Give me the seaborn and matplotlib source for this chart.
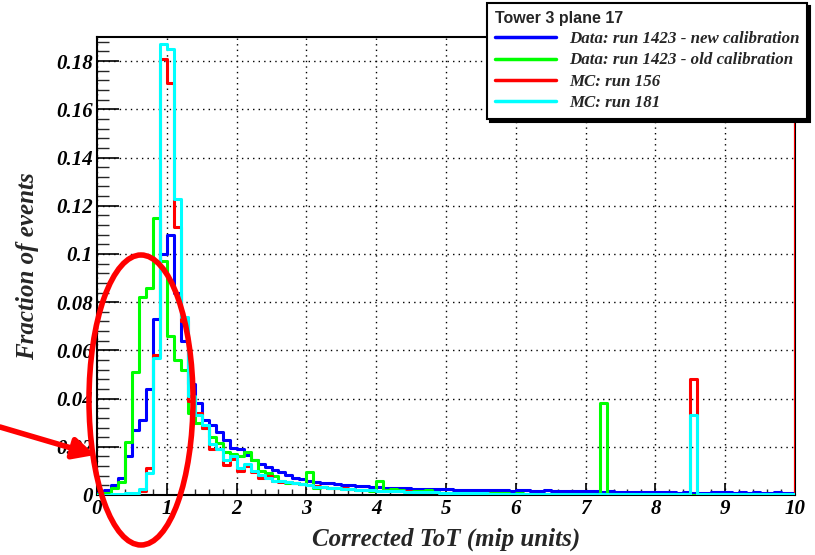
import numpy as np
import pandas as pd
import seaborn as sns
import matplotlib
matplotlib.use("Agg")
import matplotlib.pyplot as plt
from matplotlib.patches import Ellipse
from matplotlib.lines import Line2D
from matplotlib.font_manager import FontProperties

# ---------------- data (fraction of events per 0.1 mip bin, 0..10, + overflow) ----
bin_edges = [round(0.1 * k, 1) for k in range(102)]

blue_new = [
    0.001, 0.002, 0.004, 0.007, 0.016, 0.027, 0.031, 0.044, 0.073, 0.100,
    0.108, 0.084, 0.064, 0.046, 0.038, 0.031, 0.029, 0.026, 0.023, 0.0195,
    0.019, 0.0166, 0.0145, 0.013, 0.0117, 0.0104, 0.0097, 0.0083, 0.0072, 0.0066,
    0.006, 0.0055, 0.005, 0.0048, 0.0045, 0.0042, 0.004, 0.0038, 0.0036, 0.0034,
    0.0032, 0.0030, 0.0029, 0.0028, 0.0027, 0.0026, 0.0025, 0.0026, 0.0024, 0.0023,
    0.0023, 0.0022, 0.0021, 0.0021, 0.0020, 0.0020, 0.0019, 0.0019, 0.0019, 0.0018,
    0.0020, 0.0019, 0.0018, 0.0018, 0.0019, 0.0018, 0.0017, 0.0018, 0.0017, 0.0016,
    0.0015, 0.0016, 0.0014, 0.0015, 0.0014, 0.0013, 0.0012, 0.0013, 0.0012, 0.0011,
    0.0011, 0.0012, 0.0011, 0.0010, 0.0011, 0.0010, 0.0010, 0.0009, 0.0011, 0.0012,
    0.0011, 0.0010, 0.0011, 0.0009, 0.0012, 0.0010, 0.0009, 0.0013, 0.0010, 0.0009,
    0.0,
]

green_old = [
    0.0005, 0.001, 0.003, 0.0055, 0.022, 0.051, 0.082, 0.086, 0.115, 0.097,
    0.066, 0.056, 0.052, 0.034, 0.030, 0.028, 0.024, 0.0215, 0.018, 0.017,
    0.016, 0.018, 0.0145, 0.010, 0.009, 0.008, 0.006, 0.005, 0.005, 0.0045,
    0.0097, 0.003, 0.0035, 0.003, 0.0028, 0.0025, 0.0025, 0.0022, 0.002, 0.0018,
    0.006, 0.002, 0.0025, 0.0022, 0.0018, 0.0015, 0.0018, 0.002, 0.0012, 0.001,
    0.0008, 0.0009, 0.0007, 0.0008, 0.0006, 0.0008, 0.0009, 0.0010, 0.0008, 0.0006,
    0.0007, 0.0006, 0.0005, 0.0006, 0.0005, 0.0004, 0.0005, 0.0004, 0.0003, 0.0004,
    0.0003, 0.0004, 0.038, 0.0005, 0.0003, 0.0002, 0.0003, 0.0002, 0.0002, 0.0002,
    0.0002, 0.0002, 0.0001, 0.0002, 0.0002, 0.0001, 0.0002, 0.0001, 0.0001, 0.0002,
    0.0001, 0.0001, 0.0002, 0.0001, 0.0001, 0.0001, 0.0001, 0.0001, 0.0001, 0.0001,
    0.0,
]

red_mc156 = [
    0.0, 0.0, 0.0, 0.0, 0.0, 0.0005, 0.0015, 0.011, 0.058, 0.181,
    0.171, 0.111, 0.072, 0.039, 0.034, 0.028, 0.019, 0.019, 0.0125, 0.015,
    0.010, 0.012, 0.0095, 0.007, 0.008, 0.006, 0.0055, 0.0052, 0.005, 0.0045,
    0.0042, 0.0036, 0.0034, 0.003, 0.0028, 0.0027, 0.0024, 0.0022, 0.002, 0.0019,
    0.0018, 0.0017, 0.0016, 0.0015, 0.0016, 0.0013, 0.0012, 0.0011, 0.0011, 0.0010,
    0.0009, 0.0008, 0.0008, 0.0007, 0.0007, 0.0007, 0.0006, 0.0006, 0.0005, 0.0005,
    0.0005, 0.0005, 0.0004, 0.0004, 0.0004, 0.0004, 0.0004, 0.0003, 0.0003, 0.0003,
    0.0003, 0.0003, 0.0003, 0.0003, 0.0003, 0.0003, 0.0003, 0.0003, 0.0003, 0.0003,
    0.0003, 0.0003, 0.0003, 0.0003, 0.0003, 0.048, 0.0003, 0.0003, 0.0003, 0.0003,
    0.0003, 0.0003, 0.0003, 0.0003, 0.0003, 0.0003, 0.0003, 0.0003, 0.0003, 0.0003,
    1.0,
]

cyan_mc181 = [
    0.0, 0.0, 0.0003, 0.0005, 0.0008, 0.001, 0.0025, 0.009, 0.057, 0.187,
    0.185, 0.123, 0.074, 0.041, 0.033, 0.029, 0.021, 0.019, 0.0145, 0.016,
    0.011, 0.013, 0.010, 0.0083, 0.007, 0.006, 0.0057, 0.0055, 0.005, 0.0045,
    0.004, 0.0035, 0.0033, 0.003, 0.0028, 0.0026, 0.0024, 0.0022, 0.002, 0.002,
    0.0018, 0.0017, 0.0016, 0.0015, 0.0014, 0.0013, 0.0012, 0.0012, 0.0011, 0.001,
    0.0009, 0.0009, 0.0008, 0.0008, 0.0007, 0.0007, 0.0006, 0.0006, 0.0006, 0.0005,
    0.0005, 0.0005, 0.0005, 0.0004, 0.0004, 0.0004, 0.0004, 0.0004, 0.0004, 0.0004,
    0.0004, 0.0003, 0.0004, 0.0003, 0.0004, 0.0003, 0.0003, 0.0003, 0.0003, 0.0003,
    0.0003, 0.0003, 0.0003, 0.0003, 0.0003, 0.033, 0.0003, 0.0003, 0.0003, 0.0003,
    0.0003, 0.0003, 0.0003, 0.0003, 0.0003, 0.0003, 0.0003, 0.0003, 0.0003, 0.0003,
    0.0,
]

series_labels = [
    "Data: run 1423 - new calibration",
    "Data: run 1423 - old calibration",
    "MC: run 156",
    "MC: run 181",
]
series_colors = ["#0000ff", "#00ff00", "#ff0000", "#00ffff"]

x_ticks = [0, 1, 2, 3, 4, 5, 6, 7, 8, 9, 10]
y_ticks = [0, 0.02, 0.04, 0.06, 0.08, 0.10, 0.12, 0.14, 0.16, 0.18]
y_tick_labels = ["0", "0.02", "0.04", "0.06", "0.08", "0.1", "0.12", "0.14", "0.16", "0.18"]

# ---------------- plotting ------------------------------------------------------
sns.set_style("white")
plt.rcParams["font.family"] = ["Liberation Serif", "DejaVu Serif"]

fig = plt.figure(figsize=(8.15, 5.55), dpi=100)
ax = fig.add_axes([97 / 815, 1 - 495 / 555, (795 - 97) / 815, (495 - 37) / 555])

edges = np.array(bin_edges)
centers = (edges[:-1] + edges[1:]) / 2
all_vals = [blue_new, green_old, red_mc156, cyan_mc181]
for vals, col in zip(all_vals, series_colors):
    df = pd.DataFrame({"x": centers, "w": vals})
    sns.histplot(data=df, x="x", weights="w", bins=list(bin_edges), element="step",
                 fill=False, color=col, linewidth=2.2, ax=ax, zorder=3)

ax.set_xlim(0, 10)
ax.set_ylim(0, 0.19)
ax.set_xticks(x_ticks)
ax.set_xticklabels([str(t) for t in x_ticks])
ax.set_yticks(y_ticks)
ax.set_yticklabels(y_tick_labels)
ax.set_xticks(np.arange(0, 10.01, 0.2), minor=True)
ax.set_yticks(np.arange(0, 0.1901, 0.004), minor=True)

tick_font = dict(family="Liberation Serif", weight="bold", style="italic", size=15)
for lab in ax.get_xticklabels() + ax.get_yticklabels():
    lab.set_fontproperties(FontProperties(**tick_font))

ax.tick_params(axis="x", which="major", direction="in", length=8.5, width=1.2, pad=3,
               colors="black", bottom=True)
ax.tick_params(axis="x", which="minor", direction="in", length=4.5, width=1.0, bottom=True)
ax.tick_params(axis="y", which="major", direction="in", length=16, width=1.2, pad=3,
               colors="black", left=True)
ax.tick_params(axis="y", which="minor", direction="in", length=8.5, width=1.0, left=True)

ax.grid(True, which="major", color="black", linestyle=(0, (1, 3)), linewidth=1.0)
ax.set_axisbelow(True)
for sp in ax.spines.values():
    sp.set_color("black")
    sp.set_linewidth(1.5)

label_font = FontProperties(family="Liberation Serif", weight="bold", style="italic", size=18)
ax.set_xlabel("Corrected ToT (mip units)", fontproperties=label_font, labelpad=6)
ax.set_ylabel("Fraction of events", fontproperties=label_font, labelpad=12)

handles = [Line2D([], [], color=c, linewidth=2.5) for c in series_colors]
leg = ax.legend(handles, series_labels, title="Tower 3 plane 17",
                loc="upper left", bbox_to_anchor=(487 / 815, 1 - 3 / 555),
                bbox_transform=fig.transFigure, frameon=True, fancybox=False,
                framealpha=1, edgecolor="black", alignment="left",
                prop=FontProperties(family="Liberation Serif", weight="bold",
                                    style="italic", size=12.2),
                title_fontproperties=FontProperties(family="Liberation Sans",
                                                    weight="bold", size=11.5),
                handlelength=3.6, handletextpad=0.8, labelspacing=0.32,
                borderpad=0.45, borderaxespad=0,
                shadow={"color": "black", "alpha": 1})
leg.get_frame().set_linewidth(1.5)
leg.set_zorder(10)

# red hand-drawn annotation (ellipse + arrow)
ell = Ellipse((141 / 815, 1 - 400 / 555), 104 / 815, 290 / 555,
              transform=fig.transFigure, fill=False, edgecolor="red",
              linewidth=4, zorder=20, clip_on=False)
fig.add_artist(ell)
ax.annotate("", xy=(95 / 815, 1 - 455 / 555), xycoords="figure fraction",
            xytext=(0, 1 - 427 / 555), textcoords="figure fraction",
            arrowprops=dict(arrowstyle="-|>", color="red", lw=4,
                            mutation_scale=32, shrinkA=0, shrinkB=0),
            annotation_clip=False, zorder=20)

fig.savefig("out.png", dpi=100)
